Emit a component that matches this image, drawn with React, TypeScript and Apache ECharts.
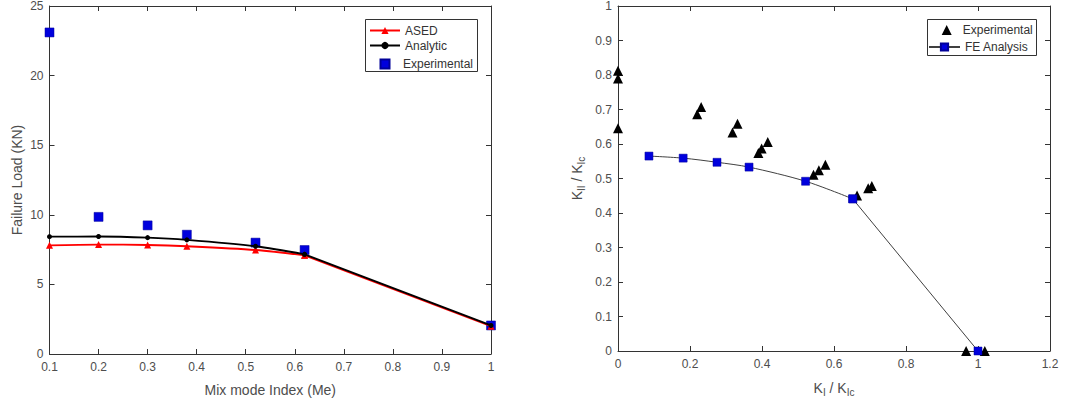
import React, { useEffect, useRef } from "react";
import * as echarts from "echarts";

// Left chart data
const mixIndex = [0.1, 0.2, 0.3, 0.38, 0.52, 0.62, 1.0];
const asedLoad = [7.81, 7.86, 7.83, 7.74, 7.47, 7.09, 2.0];
const analyticLoad = [8.43, 8.44, 8.36, 8.2, 7.74, 7.16, 2.05];
const experimentalLoad = [23.1, 9.85, 9.24, 8.57, 8.0, 7.47, 2.05];

// Right chart data
const feKI = [0.086, 0.181, 0.275, 0.364, 0.521, 0.652, 1.0];
const feKII = [0.565, 0.559, 0.547, 0.533, 0.492, 0.441, 0.0];
const expKI = [0.0, 0.0, 0.0, 0.22, 0.231, 0.318, 0.332, 0.39, 0.399, 0.416, 0.543, 0.558, 0.576, 0.664, 0.695, 0.705, 0.967, 1.019];
const expKII = [0.812, 0.79, 0.646, 0.686, 0.707, 0.633, 0.659, 0.574, 0.587, 0.606, 0.511, 0.524, 0.54, 0.451, 0.472, 0.478, 0.0, 0.0];

const FONT = "'Liberation Sans', Arial, sans-serif";
const AX = "#333333";
const LBL = "#4d4d4d";
const BLUE = "#0000dd";

const zip = (a: number[], b: number[]) => a.map((v, i) => [v, b[i]]);
// smooth part (up to the knee) and straight tail (knee to end)
const head = (a: number[][]) => a.slice(0, a.length - 1);
const tail = (a: number[][]) => a.slice(a.length - 2);

function axisBase(extra: any) {
  return {
    axisLine: { show: true, onZero: false, lineStyle: { color: AX, width: 1 } },
    axisTick: { show: true, inside: true, length: 5, lineStyle: { color: AX } },
    splitLine: { show: false },
    axisLabel: { color: LBL, fontSize: 12, fontFamily: FONT },
    ...extra,
  };
}

function mirror(extra: any) {
  return {
    axisLine: { show: true, onZero: false, lineStyle: { color: AX, width: 1 } },
    axisTick: { show: true, inside: true, length: 5, lineStyle: { color: AX } },
    splitLine: { show: false },
    axisLabel: { show: false },
    ...extra,
  };
}

const legendText = { color: "#333", fontSize: 12, fontFamily: FONT };

export default function App() {
  const ref = useRef<HTMLDivElement>(null);
  useEffect(() => {
    if (!ref.current) return;
    const chart = echarts.init(ref.current, null, { renderer: "svg" });
    const nameStyle = { color: LBL, fontSize: 14, fontFamily: FONT };
    const richK = {
      k: { fontSize: 14, color: LBL, fontFamily: FONT },
      s: { fontSize: 10, color: LBL, fontFamily: FONT, padding: [9, 0, 0, 0] },
    };
    const aseD = zip(mixIndex, asedLoad);
    const anaD = zip(mixIndex, analyticLoad);
    const feD = zip(feKI, feKII);
    chart.setOption({
      animation: false,
      backgroundColor: "#fff",
      textStyle: { fontFamily: FONT },
      grid: [
        { left: 49.5, top: 6, width: 441.5, height: 348 },
        { left: 618, top: 6, width: 432, height: 345 },
      ],
      xAxis: [
        axisBase({
          gridIndex: 0, type: "value", min: 0.1, max: 1, interval: 0.1, position: "bottom",
          name: "Mix mode Index (Me)", nameLocation: "middle", nameGap: 29, nameTextStyle: nameStyle,
          axisLabel: { color: LBL, fontSize: 12, fontFamily: FONT, margin: 7 },
        }),
        mirror({ gridIndex: 0, type: "value", min: 0.1, max: 1, interval: 0.1, position: "top" }),
        axisBase({
          gridIndex: 1, type: "value", min: 0, max: 1.2, interval: 0.2, position: "bottom",
          name: "{k|K}{s|I}{k| / K}{s|Ic}", nameLocation: "middle", nameGap: 27,
          nameTextStyle: { ...nameStyle, rich: richK },
          axisLabel: { color: LBL, fontSize: 12, fontFamily: FONT, margin: 7 },
        }),
        mirror({ gridIndex: 1, type: "value", min: 0, max: 1.2, interval: 0.2, position: "top" }),
      ],
      yAxis: [
        axisBase({
          gridIndex: 0, type: "value", min: 0, max: 25, interval: 5, position: "left",
          name: "Failure Load (KN)", nameLocation: "middle", nameGap: 26, nameTextStyle: nameStyle,
          axisLabel: { color: LBL, fontSize: 12, fontFamily: FONT, margin: 6 },
        }),
        mirror({ gridIndex: 0, type: "value", min: 0, max: 25, interval: 5, position: "right" }),
        axisBase({
          gridIndex: 1, type: "value", min: 0, max: 1, interval: 0.1, position: "left",
          name: "{k|K}{s|II}{k| / K}{s|Ic}", nameLocation: "middle", nameGap: 32,
          nameTextStyle: { ...nameStyle, rich: richK },
          axisLabel: { color: LBL, fontSize: 12, fontFamily: FONT, margin: 6 },
        }),
        mirror({ gridIndex: 1, type: "value", min: 0, max: 1, interval: 0.1, position: "right" }),
      ],
      graphic: [
        { type: "rect", z: 3, shape: { x: 365.5, y: 19.5, width: 112, height: 52 }, style: { fill: "#fff", stroke: "#333", lineWidth: 1 } },
        { type: "rect", z: 3, shape: { x: 927.5, y: 19.5, width: 109, height: 36 }, style: { fill: "#fff", stroke: "#333", lineWidth: 1 } },
      ],
      legend: [
        {
          left: 369, top: 24.5, orient: "vertical", selectedMode: false,
          data: ["ASED", "Analytic"],
          itemWidth: 30, itemHeight: 9, itemGap: 3, padding: 0,
          textStyle: legendText,
        },
        {
          left: 379.5, top: 58, orient: "vertical", selectedMode: false,
          data: ["Experimental"],
          itemWidth: 9, itemHeight: 9, padding: 0,
          textStyle: { ...legendText, padding: [0, 0, 0, 8.5] },
        },
        {
          left: 941.7, top: 24, orient: "vertical", selectedMode: false,
          data: ["Experimental2"],
          formatter: () => "Experimental",
          itemWidth: 10, itemHeight: 10, padding: 0,
          textStyle: { ...legendText, padding: [0, 0, 0, 6] },
        },
        {
          left: 928, top: 41, orient: "vertical", selectedMode: false,
          data: ["FE Analysis"],
          itemWidth: 31, itemHeight: 9, padding: 0,
          textStyle: legendText,
        },
      ],
      series: [
        {
          name: "ASED", type: "line", xAxisIndex: 0, yAxisIndex: 0,
          data: head(aseD), smooth: 0.3,
          symbol: "triangle", symbolSize: 7, showAllSymbol: true,
          lineStyle: { color: "#ff0000", width: 1.8 }, itemStyle: { color: "#ff0000" },
        },
        {
          name: "ASED tail", type: "line", xAxisIndex: 0, yAxisIndex: 0,
          data: tail(aseD), symbol: "triangle", symbolSize: 7,
          lineStyle: { color: "#ff0000", width: 1.8 }, itemStyle: { color: "#ff0000" },
        },
        {
          name: "Analytic", type: "line", xAxisIndex: 0, yAxisIndex: 0,
          data: head(anaD), smooth: 0.3,
          symbol: "circle", symbolSize: 5, showAllSymbol: true,
          lineStyle: { color: "#000", width: 1.8 }, itemStyle: { color: "#000" },
        },
        {
          name: "Analytic tail", type: "line", xAxisIndex: 0, yAxisIndex: 0,
          data: tail(anaD), symbol: "circle", symbolSize: 5,
          lineStyle: { color: "#000", width: 1.8 }, itemStyle: { color: "#000" },
        },
        {
          name: "Experimental", type: "scatter", xAxisIndex: 0, yAxisIndex: 0,
          data: zip(mixIndex, experimentalLoad), symbol: "rect", symbolSize: 9, clip: false,
          itemStyle: { color: BLUE, opacity: 1, borderColor: "#000099", borderWidth: 0.5 },
        },
        {
          name: "Experimental2", type: "scatter", xAxisIndex: 2, yAxisIndex: 2,
          data: zip(expKI, expKII), symbol: "triangle", symbolSize: 10, clip: false,
          itemStyle: { color: "#000", opacity: 1 },
        },
        {
          name: "FE Analysis", type: "line", xAxisIndex: 2, yAxisIndex: 2,
          data: head(feD), smooth: 0.3,
          symbol: "rect", symbolSize: 8, showAllSymbol: true,
          lineStyle: { color: "#404040", width: 1 },
          itemStyle: { color: BLUE, borderColor: "#000099", borderWidth: 0.5 },
        },
        {
          name: "FE tail", type: "line", xAxisIndex: 2, yAxisIndex: 2,
          data: tail(feD), symbol: "rect", symbolSize: 8, clip: false,
          lineStyle: { color: "#404040", width: 1 },
          itemStyle: { color: BLUE, borderColor: "#000099", borderWidth: 0.5 },
        },
      ],
    });
    return () => chart.dispose();
  }, []);
  return (
    <div
      ref={ref}
      style={{ position: "fixed", left: 0, top: 0, width: 1074, height: 405, background: "#fff" }}
    />
  );
}
